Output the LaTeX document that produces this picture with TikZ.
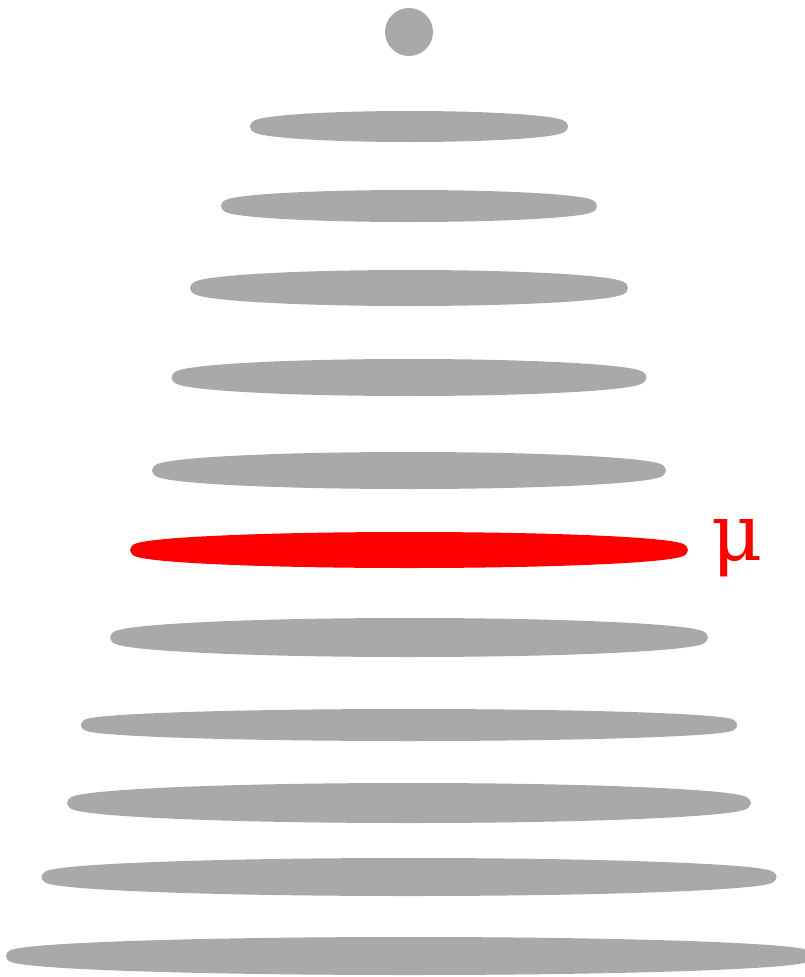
\documentclass[tikz,border=0pt]{standalone}
\usepackage{fontspec}
\newfontfamily\mufont{DejaVu Serif}
\usetikzlibrary{shapes.geometric}
\definecolor{bargray}{HTML}{A9A9A9}
\definecolor{barred}{HTML}{FF0000}
\tikzset{
  bar/.style={ellipse, inner sep=0pt, outer sep=0pt, fill=#1, draw=#1, line width=10pt, line join=round},
  bar/.default=bargray,
}
\begin{document}
\begin{tikzpicture}[x=1pt,y=-1pt]
\useasboundingbox (0,0) rectangle (805,977);
\node[circle, inner sep=0pt, minimum size=48pt, fill=bargray] (top) at (409,32) {};
\foreach \n/\cy/\a/\b/\c in {b1/126.5/159/15.5/bargray, b2/206/188/16/bargray, b3/288/219/18/bargray, b4/377.5/237.5/18.5/bargray, b5/470.5/257/18.5/bargray, b6/550/279/18/barred, b7/637.5/299/19.5/bargray, b8/725/328/16/bargray, b9/803/342/20/bargray, b10/877/367.5/19/bargray, b11/956/403/19/bargray}{
  \pgfmathsetmacro{\w}{2*\a-10}
  \pgfmathsetmacro{\h}{2*\b-10}
  \node[bar=\c, minimum width=\w pt, minimum height=\h pt] (\n) at (409,\cy) {};
}
\node[anchor=base west, inner sep=0pt, text=barred, font=\mufont\fontsize{79}{80}\selectfont] (mu) at (711,560) {μ};
\end{tikzpicture}
\end{document}
